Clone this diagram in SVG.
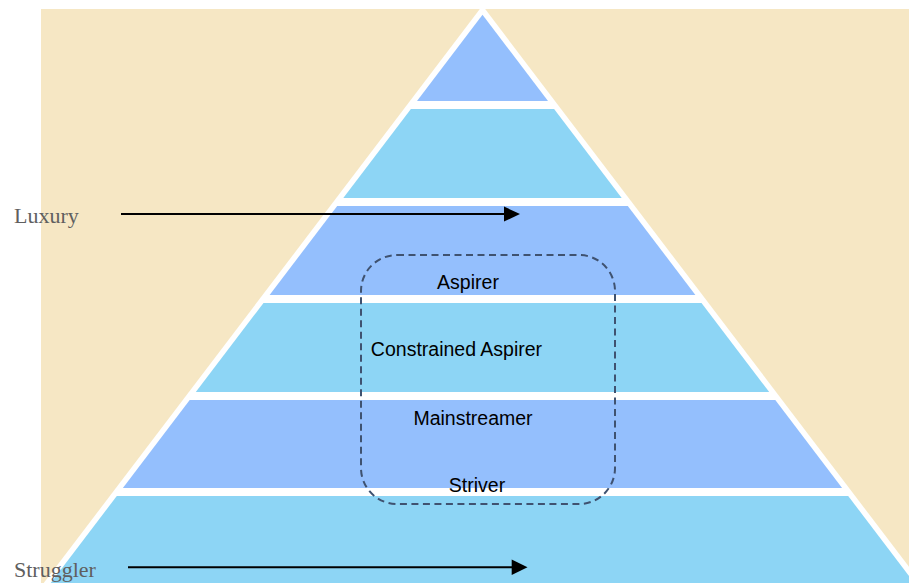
<svg xmlns="http://www.w3.org/2000/svg" width="909" height="583" viewBox="0 0 909 583">
<defs>
<style>
.blue{fill:#94BFFD}
.cyan{fill:#8DD5F5}
.side{font-family:"Liberation Serif","Times New Roman",serif;font-size:22px;fill:#5F5F5F}
.lbl{font-family:"Liberation Sans",Arial,sans-serif;font-size:19.5px;fill:#000;text-anchor:middle}
.arr{stroke:#000;stroke-width:2;fill:none}
</style>
</defs>
<rect x="41" y="9" width="868" height="574" fill="#F6E7C4"/>
<polygon points="482.5,5.6 43.7,583 921.3,583" fill="#FFFFFF"/>
<g id="level1"><polygon class="blue" points="482.5,14.8 417,101 548,101"/></g>
<g id="level2"><polygon class="cyan" points="410.9,109 554.1,109 621.7,198 343.3,198"/></g>
<g id="level3"><polygon class="blue" points="337.2,206 627.8,206 695.4,295 269.6,295"/></g>
<g id="level4"><polygon class="cyan" points="263.5,303 701.5,303 769.2,392 195.8,392"/></g>
<g id="level5"><polygon class="blue" points="189.7,400 775.3,400 842.1,488 122.9,488"/></g>
<g id="level6"><polygon class="cyan" points="116.8,496 848.2,496 914.3,583 50.7,583"/></g>
<g id="group-box"><rect x="361" y="255" width="254" height="249" rx="36" ry="36" fill="none" stroke="#3F5270" stroke-width="2" stroke-dasharray="7 4.5"/></g>
<g id="labels">
<text class="lbl" x="468" y="288.5">Aspirer</text>
<text class="lbl" x="456.5" y="355.5">Constrained Aspirer</text>
<text class="lbl" x="473" y="425">Mainstreamer</text>
<text class="lbl" x="477" y="492">Striver</text>
</g>
<g id="luxury"><text class="side" x="14" y="223">Luxury</text></g>
<g id="struggler"><text class="side" x="14" y="577">Struggler</text></g>
<g id="connectors">
<line class="arr" x1="121" y1="214" x2="505" y2="214"/>
<polygon points="504,206.5 520,214 504,221.5" fill="#000"/>
<line class="arr" x1="128" y1="567.3" x2="513" y2="567.3"/>
<polygon points="511.7,559.5 527.5,567.3 511.7,575" fill="#000"/>
</g>
</svg>
